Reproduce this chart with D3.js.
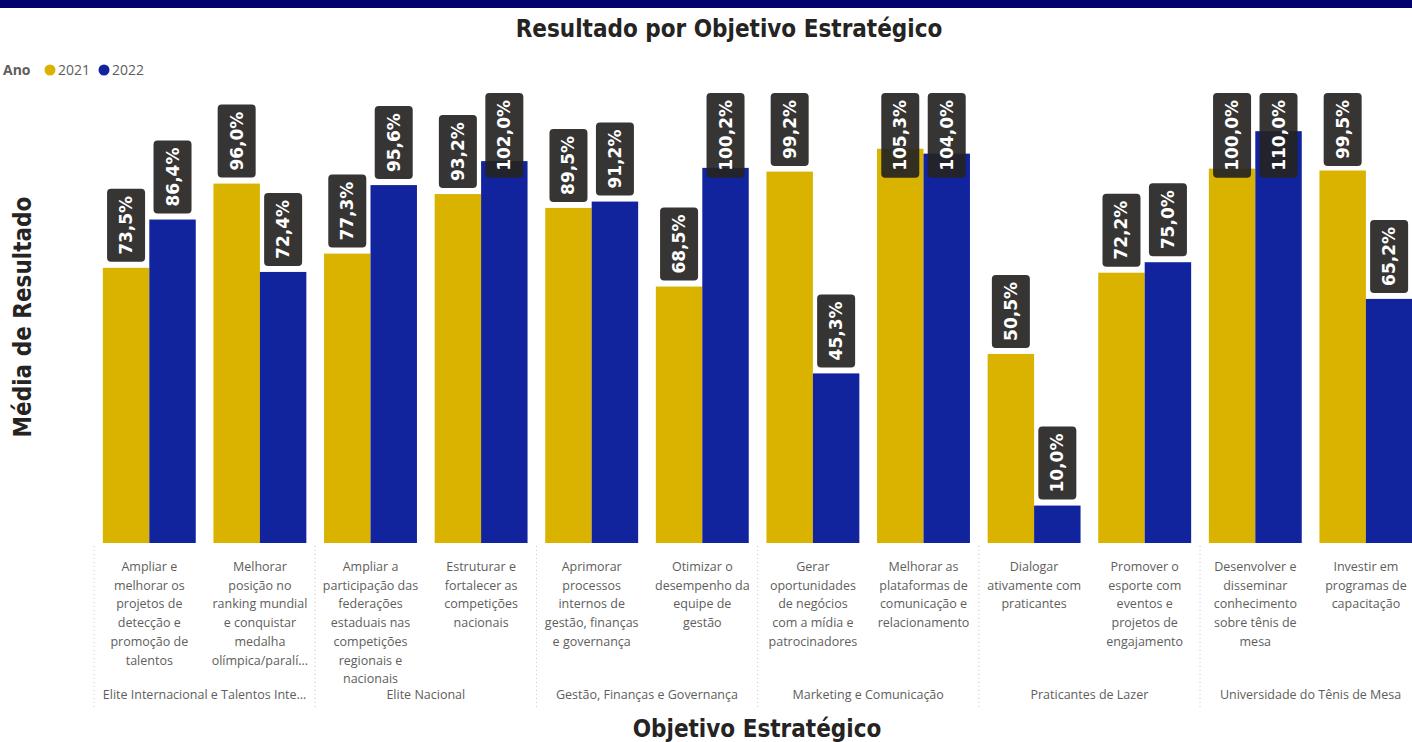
<!DOCTYPE html>
<html>
<head>
<meta charset="utf-8">
<script src="https://cdn.jsdelivr.net/npm/d3@7"></script>
<style>
  body { margin: 0; background: #fff; overflow: hidden; }
  svg { display: block; }
</style>
</head>
<body>
<div id="chart"></div>
<script>
// data
var groups = [
  "Elite Internacional e Talentos Inte...",
  "Elite Nacional",
  "Gestão, Finanças e Governança",
  "Marketing e Comunicação",
  "Praticantes de Lazer",
  "Universidade do Tênis de Mesa"
]
var categories = [
  "Ampliar e\nmelhorar os\nprojetos de\ndetecção e\npromoção de\ntalentos",
  "Melhorar\nposição no\nranking mundial\ne conquistar\nmedalha\nolímpica/paralí...",
  "Ampliar a\nparticipação das\nfederações\nestaduais nas\ncompetições\nregionais e\nnacionais",
  "Estruturar e\nfortalecer as\ncompetições\nnacionais",
  "Aprimorar\nprocessos\ninternos de\ngestão, finanças\ne governança",
  "Otimizar o\ndesempenho da\nequipe de\ngestão",
  "Gerar\noportunidades\nde negócios\ncom a mídia e\npatrocinadores",
  "Melhorar as\nplataformas de\ncomunicação e\nrelacionamento",
  "Dialogar\nativamente com\npraticantes",
  "Promover o\nesporte com\neventos e\nprojetos de\nengajamento",
  "Desenvolver e\ndisseminar\nconhecimento\nsobre tênis de\nmesa",
  "Investir em\nprogramas de\ncapacitação"
]
var years = ["2021", "2022"]
var values2021 = [73.5, 96.0, 77.3, 93.2, 89.5, 68.5, 99.2, 105.3, 50.5, 72.2, 100.0, 99.5]
var values2022 = [86.4, 72.4, 95.6, 102.0, 91.2, 100.2, 45.3, 104.0, 10.0, 75.0, 110.0, 65.2]

var colors = { "2021": "#D9B300", "2022": "#12239E" }

var W = 1412, H = 742
var margin = { top: 90, left: 94, bottom: 199 }
var plotW = 12 * 110.6
var baseY = H - margin.bottom

var svg = d3.select("#chart").append("svg")
  .attr("width", W)
  .attr("height", H)

// top band
svg.append("rect")
  .attr("x", 0).attr("y", 0).attr("width", W).attr("height", 8)
  .attr("fill", "#00006E")

// title
svg.append("text")
  .attr("x", 729).attr("y", 37)
  .attr("text-anchor", "middle")
  .style("font-family", "DejaVu Sans Condensed")
  .style("font-weight", "bold")
  .style("font-size", "24px")
  .attr("fill", "#252423")
  .text("Resultado por Objetivo Estratégico")

// legend
var legend = svg.append("g").attr("transform", "translate(3,75)")
legend.append("text")
  .attr("x", 0).attr("y", 0)
  .style("font-family", "Open Sans")
  .style("font-weight", "bold")
  .style("font-size", "14px")
  .attr("fill", "#605E5C")
  .text("Ano")
var lx = 47
years.forEach(function(yr) {
  legend.append("circle").attr("cx", lx).attr("cy", -5).attr("r", 5.5).attr("fill", colors[yr])
  legend.append("text")
    .attr("x", lx + 8).attr("y", 0)
    .style("font-family", "Open Sans")
    .style("font-size", "14px")
    .attr("fill", "#605E5C")
    .text(yr)
  lx += 54
})

// scales
var x0 = d3.scaleBand()
  .domain(d3.range(categories.length))
  .range([margin.left, margin.left + plotW])
  .paddingInner(0.16)
  .paddingOuter(0.08)

var x1 = d3.scaleBand()
  .domain(years)
  .range([0, x0.bandwidth()])

var y = d3.scaleLinear()
  .domain([0, 121])
  .range([baseY, margin.top])

var rows = categories.map(function(c, i) {
  return { i: i, vals: [{ yr: "2021", v: values2021[i] }, { yr: "2022", v: values2022[i] }] }
})

var cat = svg.append("g").selectAll("g.cat")
  .data(rows)
  .enter().append("g")
  .attr("class", "cat")
  .attr("transform", function(d) { return "translate(" + x0(d.i) + ",0)" })

cat.selectAll("rect")
  .data(function(d) { return d.vals })
  .enter().append("rect")
  .attr("x", function(d) { return x1(d.yr) })
  .attr("y", function(d) { return y(d.v) })
  .attr("width", x1.bandwidth())
  .attr("height", function(d) { return baseY - y(d.v) })
  .attr("fill", function(d) { return colors[d.yr] })

// data labels (dark rounded boxes with rotated text)
var fmt = function(v) { return d3.format(".1f")(v).replace(".", ",") + "%" }
cat.each(function(d) {
  var g = d3.select(this)
  d.vals.forEach(function(p) {
    var cx = x1(p.yr) + x1.bandwidth() / 2
    var lg = g.append("g")
    var box = lg.append("rect").attr("rx", 4).attr("fill", "#252423").attr("fill-opacity", 0.92)
    var t = lg.append("text")
      .attr("text-anchor", "middle")
      .attr("dominant-baseline", "central")
      .style("font-family", "DejaVu Sans")
      .style("font-weight", "bold")
      .style("font-size", "17px")
      .attr("fill", "#fff")
      .text(fmt(p.v))
    var len = t.node().getComputedTextLength()
    var bh = len + 14, bw = 38
    var top = y(p.v) - 6 - bh
    if (top < margin.top + 3) top = margin.top + 3
    box.attr("x", cx - bw / 2).attr("y", top).attr("width", bw).attr("height", bh)
    t.attr("transform", "translate(" + cx + "," + (top + bh / 2) + ") rotate(-90)")
  })
})

// category labels
var catText = svg.append("g")
  .style("font-family", "Open Sans")
  .style("font-size", "12.5px")
  .attr("fill", "#605E5C")
categories.forEach(function(c, i) {
  var t = catText.append("text")
    .attr("x", x0(i) + x0.bandwidth() / 2)
    .attr("y", 571)
    .attr("text-anchor", "middle")
  c.split("\n").forEach(function(line, k) {
    t.append("tspan")
      .attr("x", x0(i) + x0.bandwidth() / 2)
      .attr("dy", k === 0 ? 0 : 18.7)
      .text(line)
  })
})

// group labels and dotted separators
var step = x0.step()
var groupStart = function(gi) { return margin.left + gi * 2 * step }
groups.forEach(function(name, gi) {
  svg.append("text")
    .attr("x", groupStart(gi) + step)
    .attr("y", 699)
    .attr("text-anchor", "middle")
    .style("font-family", "Open Sans")
    .style("font-size", "12.5px")
    .attr("fill", "#605E5C")
    .text(name)
})
d3.range(groups.length + 1).forEach(function(gi) {
  svg.append("line")
    .attr("x1", groupStart(gi)).attr("x2", groupStart(gi))
    .attr("y1", baseY + 3).attr("y2", 708)
    .attr("stroke", "#C8C6C4")
    .attr("stroke-width", 1)
    .attr("stroke-dasharray", "1,3")
})

// axis titles
svg.append("text")
  .attr("transform", "translate(31,317) rotate(-90)")
  .attr("text-anchor", "middle")
  .style("font-family", "DejaVu Sans Condensed")
  .style("font-weight", "bold")
  .style("font-size", "24px")
  .attr("fill", "#252423")
  .text("Média de Resultado")

svg.append("text")
  .attr("x", 757).attr("y", 737)
  .attr("text-anchor", "middle")
  .style("font-family", "DejaVu Sans Condensed")
  .style("font-weight", "bold")
  .style("font-size", "24px")
  .attr("fill", "#252423")
  .text("Objetivo Estratégico")
</script>
</body>
</html>
